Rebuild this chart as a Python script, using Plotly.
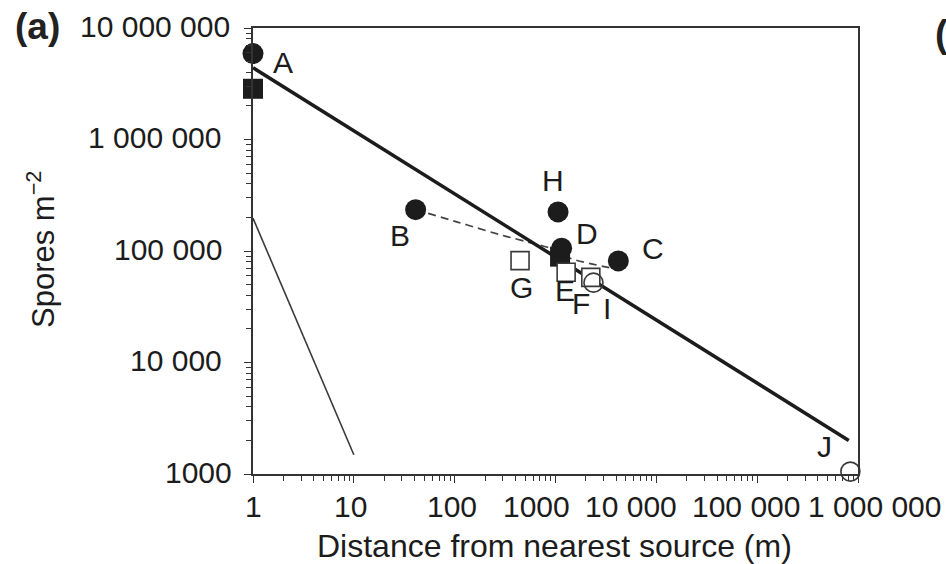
import numpy as np
import plotly.graph_objects as go

# Spore deposition (spores m^-2) against distance from the nearest source (m)
filled_circle_sites = ["A", "B", "H", "D", "C"]
filled_circle_dist = [1, 41, 1060, 1150, 4200]
filled_circle_spores = [5.9e6, 2.35e5, 2.24e5, 1.06e5, 8.15e4]

filled_square_dist = [1, 1110]
filled_square_spores = [2.85e6, 8.9e4]

open_square_sites = ["G", "E", "F"]
open_square_dist = [445, 1275, 2240]
open_square_spores = [8.2e4, 6.45e4, 5.8e4]

open_circle_sites = ["I", "J"]
open_circle_dist = [2380, 8.4e5]
open_circle_spores = [5.2e4, 1050]

# Fitted power-law decline (thick) and steep short-range decline (thin)
fit_dist = [1, 8.1e5]
fit_spores = [4.4e6, 2000]
steep_dist = [1, 10]
steep_spores = [1.97e5, 1490]

# Dashed curve running from B through D towards C
dashed_dist = [41, 90, 131, 282, 560, 884, 1400, 4060]
dashed_spores = [2.35e5, 1.9e5, 1.72e5, 1.40e5, 1.19e5, 1.06e5, 8.6e4, 6.9e4]

SP = "\u00a0"  # non-breaking space as thousands separator
x_tick_vals = [1, 10, 100, 1000, 1e4, 1e5, 1e6]
x_tick_text = ["1", "10", "100", "1000", f"10{SP}000", f"100{SP}000", f"1{SP}000{SP}000"]
y_tick_vals = [1e3, 1e4, 1e5, 1e6, 1e7]
y_tick_text = ["1000", f"10{SP}000", f"100{SP}000", f"1{SP}000{SP}000", f"10{SP}000{SP}000"]
minor_tick_vals = [m * 10 ** e for e in range(0, 7) for m in range(2, 10)]

# Label placement (pixel offsets)
x_label_shift = [0, -3, -3, -19, -25, -11, 16]
y_label_shift = [-19, -29, -29, -30, -21]
letter_offsets = {
    "A": (30, -9), "B": (-16, -26), "H": (-5, 31), "D": (25, 15), "C": (35, 12),
    "G": (1, -27), "E": (-1, -18), "F": (-10, -26), "I": (14, -26), "J": (-26, 25),
}

FONT = "Liberation Sans, Arial, Helvetica, sans-serif"
INK = "#1c1c1c"
AXIS = "#333333"

fig = go.Figure()

fig.add_trace(go.Scatter(x=steep_dist, y=steep_spores, mode="lines",
                         line=dict(color="#3a3a3a", width=1.6), hoverinfo="skip"))
fig.add_trace(go.Scatter(x=dashed_dist, y=dashed_spores, mode="lines",
                         line=dict(color="#444444", width=1.7, dash="8px,5px", shape="spline"),
                         hoverinfo="skip"))
fig.add_trace(go.Scatter(x=fit_dist, y=fit_spores, mode="lines",
                         line=dict(color=INK, width=3.5), hoverinfo="skip"))

fig.add_trace(go.Scatter(x=filled_square_dist, y=filled_square_spores, mode="markers",
                         marker=dict(symbol="square", size=20, color=INK,
                                     line=dict(width=0)), cliponaxis=False))
fig.add_trace(go.Scatter(x=filled_circle_dist, y=filled_circle_spores, mode="markers",
                         marker=dict(symbol="circle", size=21, color=INK,
                                     line=dict(width=0)), cliponaxis=False))
fig.add_trace(go.Scatter(x=open_square_dist, y=open_square_spores, mode="markers",
                         marker=dict(symbol="square", size=18, color="white",
                                     line=dict(width=1.6, color="#3a3a3a")), cliponaxis=False))
fig.add_trace(go.Scatter(x=open_circle_dist, y=open_circle_spores, mode="markers",
                         marker=dict(symbol="circle", size=19, color="rgba(255,255,255,0)",
                                     line=dict(width=1.6, color="#3a3a3a")), cliponaxis=False))

annotations = []

# Site letters next to their markers
for names, dists, vals in [
    (filled_circle_sites, filled_circle_dist, filled_circle_spores),
    (open_square_sites, open_square_dist, open_square_spores),
    (open_circle_sites, open_circle_dist, open_circle_spores),
]:
    for n, d, v in zip(names, dists, vals):
        dx, dy = letter_offsets[n]
        annotations.append(dict(x=np.log10(d), y=np.log10(v), xref="x", yref="y",
                                text=n, showarrow=False, xshift=dx, yshift=dy,
                                font=dict(family=FONT, size=30, color=INK)))

# Axis tick labels
for v, t, s in zip(x_tick_vals, x_tick_text, x_label_shift):
    annotations.append(dict(x=np.log10(v), y=0, xref="x", yref="paper", text=t,
                            showarrow=False, xanchor="center", yanchor="middle",
                            xshift=s, yshift=-32,
                            font=dict(family=FONT, size=30, color=INK)))
for v, t, s in zip(y_tick_vals, y_tick_text, y_label_shift):
    annotations.append(dict(x=0, y=np.log10(v), xref="paper", yref="y", text=t,
                            showarrow=False, xanchor="right", yanchor="middle",
                            xshift=s, yshift=2,
                            font=dict(family=FONT, size=30, color=INK)))

# Axis titles and panel tags
annotations.append(dict(x=0.5, y=0, xref="paper", yref="paper",
                        text="Distance from nearest source (m)", showarrow=False,
                        xanchor="center", yanchor="middle", xshift=-1, yshift=-72,
                        font=dict(family=FONT, size=32, color=INK)))
annotations.append(dict(x=0, y=0.5, xref="paper", yref="paper",
                        text="Spores m<sup>−2</sup>", showarrow=False, textangle=-90,
                        xanchor="center", yanchor="middle", xshift=41 - 253, yshift=1,
                        font=dict(family=FONT, size=31, color=INK)))
annotations.append(dict(x=0, y=1, xref="paper", yref="paper", text="<b>(a)</b>",
                        showarrow=False, xanchor="center", yanchor="middle",
                        xshift=37 - 253, yshift=2,
                        font=dict(family=FONT, size=37, color="#222222")))
annotations.append(dict(x=1, y=1, xref="paper", yref="paper", text="<b>(b)</b>",
                        showarrow=False, xanchor="left", yanchor="middle",
                        xshift=933 - 858, yshift=-6,
                        font=dict(family=FONT, size=38, color="#222222")))

axis_common = dict(
    type="log", showgrid=False, zeroline=False, showline=True, mirror=True,
    linecolor=AXIS, linewidth=1.5, ticks="outside", ticklen=7, tickwidth=1.4,
    tickcolor=AXIS, showticklabels=False, tickmode="array",
    minor=dict(ticks="outside", ticklen=5, tickwidth=1.2, tickcolor=AXIS,
               tickmode="array", tickvals=minor_tick_vals, showgrid=False),
)

fig.update_layout(
    width=946, height=564, autosize=False,
    margin=dict(l=253, r=88, t=28, b=90, pad=0),
    paper_bgcolor="white", plot_bgcolor="white",
    showlegend=False,
    xaxis=dict(range=[0, 6], tickvals=x_tick_vals, **axis_common),
    yaxis=dict(range=[3, 7], tickvals=y_tick_vals, **axis_common),
    annotations=annotations,
)

fig.write_html("out.html")
